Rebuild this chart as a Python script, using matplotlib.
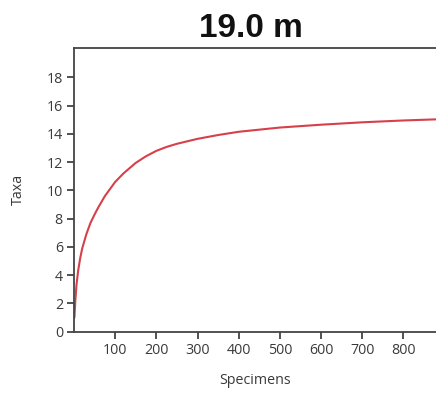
import matplotlib
matplotlib.use("Agg")
import matplotlib.pyplot as plt

# Rarefaction curve: expected number of taxa versus number of specimens
specimens = [1, 3, 6, 10, 15, 20, 30, 40, 50, 60, 75, 90, 100, 120, 150,
             175, 200, 225, 250, 300, 350, 400, 500, 600, 700, 800, 880]
taxa = [1.0, 2.1, 3.3, 4.3, 5.2, 5.9, 6.9, 7.7, 8.3, 8.85, 9.6, 10.2, 10.6,
        11.2, 11.95, 12.42, 12.8, 13.08, 13.3, 13.65, 13.92, 14.15, 14.45,
        14.65, 14.82, 14.95, 15.03]

x_ticks = [100, 200, 300, 400, 500, 600, 700, 800]
y_ticks = [0, 2, 4, 6, 8, 10, 12, 14, 16, 18]
title = "19.0 m"

W, H = 436, 394
fig = plt.figure(figsize=(W / 100, H / 100), dpi=100)
fig.patch.set_facecolor("white")

left, bottom, top = 74 / W, (H - 331.7) / H, (H - 47.7) / H
ax = fig.add_axes([left, bottom, 1.0 - left, top - bottom])

ax.plot(specimens, taxa, color="#d6404a", linewidth=1.5,
        solid_capstyle="round", solid_joinstyle="round")

ax.set_xlim(0, 879)
ax.set_ylim(0, 20.1)
ax.set_xticks(x_ticks)
ax.set_yticks(y_ticks)

label_font = {"family": ["Open Sans", "DejaVu Sans"], "size": 10.3, "color": "#3a3a3a"}
ax.set_xticklabels([str(v) for v in x_ticks], fontdict=label_font)
ax.set_yticklabels([str(v) for v in y_ticks], fontdict=label_font)

ax.tick_params(axis="both", direction="out", length=5, width=1.2,
               color="#333333", pad=3)

for side in ("left", "bottom", "top"):
    ax.spines[side].set_color("#444444")
    ax.spines[side].set_linewidth(1.3)
ax.spines["right"].set_visible(False)

ax.set_xlabel("Specimens", fontdict=label_font, labelpad=11)
ax.set_ylabel("Taxa", fontdict=label_font, labelpad=15)

fig.text(251 / W, 1 - 37 / H, title, ha="center", va="baseline",
         fontsize=24, fontweight="bold", family=["Liberation Sans", "DejaVu Sans"],
         color="#111111")

fig.savefig("out.png", dpi=100, facecolor="white")
